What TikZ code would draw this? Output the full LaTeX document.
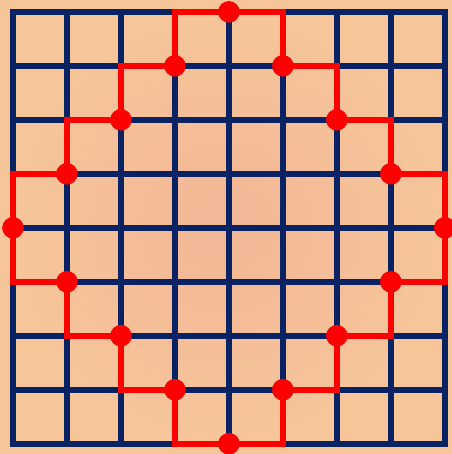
\documentclass[tikz,border=0pt]{standalone}
\usetikzlibrary{shadings}

\definecolor{gridnavy}{RGB}{8,34,100}
\definecolor{pathred}{RGB}{255,0,0}
\definecolor{peachin}{RGB}{242,182,150}
\definecolor{peachout}{RGB}{246,198,154}

\tikzset{
  gridline/.style={gridnavy, line width=3.1pt, line cap=rect},
  stairline/.style={pathred, line width=3pt, line join=miter},
  latticedot/.style={fill=pathred, draw=none},
}

\begin{document}
\begin{tikzpicture}[x=1cm, y=1cm]
  % Background sheet (fixes the margins too)
  \shade[inner color=peachin, outer color=peachout]
    (-0.24,-0.19) rectangle (8.13,8.22);
  \useasboundingbox (-0.24,-0.19) rectangle (8.13,8.22);

  % 8 x 8 grid
  \draw[gridline] (0,0) grid (8,8);

  % Lattice points with |x-4|+|y-4| = 4, going round from the top
  \coordinate (D0) at (4,8);
  \coordinate (D1) at (3,7);
  \coordinate (D2) at (2,6);
  \coordinate (D3) at (1,5);
  \coordinate (D4) at (0,4);
  \coordinate (D5) at (1,3);
  \coordinate (D6) at (2,2);
  \coordinate (D7) at (3,1);
  \coordinate (D8) at (4,0);
  \coordinate (D9) at (5,1);
  \coordinate (D10) at (6,2);
  \coordinate (D11) at (7,3);
  \coordinate (D12) at (8,4);
  \coordinate (D13) at (7,5);
  \coordinate (D14) at (6,6);
  \coordinate (D15) at (5,7);

  % Staircase round the points (outside corners)
  \draw[stairline] (D0) -| (D1) -| (D2) -| (D3) -| (D4)
    |- (D5) |- (D6) |- (D7) |- (D8)
    -| (D9) -| (D10) -| (D11) -| (D12)
    |- (D13) |- (D14) |- (D15) |- (D0) -- cycle;

  % Dots
  \foreach \i in {0,...,15}
    \fill[latticedot] (D\i) circle (0.2);
\end{tikzpicture}
\end{document}
